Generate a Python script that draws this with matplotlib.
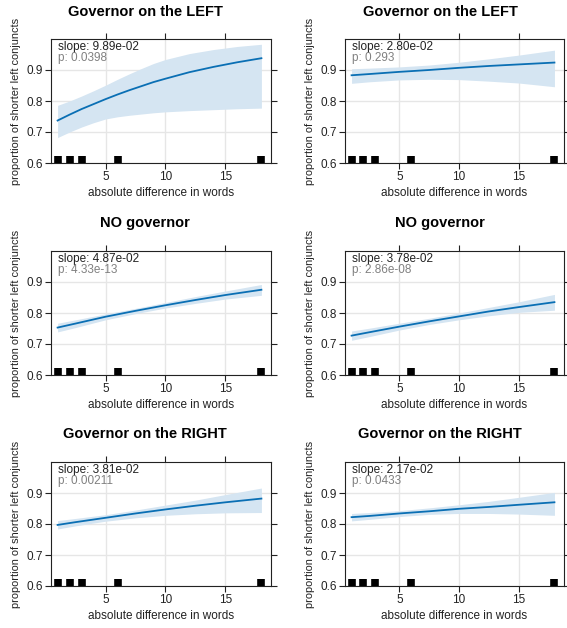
import numpy as np
import matplotlib
matplotlib.use("Agg")
import matplotlib.pyplot as plt

plt.rcParams['font.family'] = ['Liberation Sans', 'DejaVu Sans']

# x positions where the fitted curves were read
x_fit = [1, 2.5, 5, 7.5, 10, 12.5, 15, 18]
x_dense = [1, 2, 3, 4, 5, 6, 7, 8, 9, 10, 12, 14, 16, 18]
# observed distances (rug)
rug_x = [1, 2, 3, 6, 18]

titles = ["Governor on the LEFT", "Governor on the LEFT",
          "NO governor", "NO governor",
          "Governor on the RIGHT", "Governor on the RIGHT"]
slopes = ["9.89e-02", "2.80e-02", "4.87e-02", "3.78e-02", "3.81e-02", "2.17e-02"]
pvals = ["0.0398", "0.293", "4.33e-13", "2.86e-08", "0.00211", "0.0433"]

# read at x_dense
fit_left_a = [0.737, 0.756, 0.774, 0.790, 0.806, 0.821, 0.835, 0.848, 0.861, 0.872,
              0.893, 0.910, 0.925, 0.938]
upr_left_a = [0.786, 0.800, 0.816, 0.833, 0.851, 0.870, 0.888, 0.905, 0.921, 0.934,
              0.953, 0.966, 0.976, 0.983]
lwr_left_a = [0.682, 0.700, 0.716, 0.730, 0.742, 0.749, 0.754, 0.758, 0.762, 0.765,
              0.769, 0.772, 0.775, 0.777]

# read at x_fit
fit_left_b = [0.883, 0.887, 0.894, 0.900, 0.907, 0.913, 0.918, 0.924]
upr_left_b = [0.904, 0.906, 0.910, 0.916, 0.925, 0.936, 0.948, 0.964]
lwr_left_b = [0.857, 0.862, 0.868, 0.870, 0.869, 0.864, 0.858, 0.846]

fit_none_a = [0.753, 0.766, 0.788, 0.807, 0.825, 0.842, 0.858, 0.875]
upr_none_a = [0.767, 0.778, 0.797, 0.815, 0.834, 0.853, 0.871, 0.892]
lwr_none_a = [0.739, 0.753, 0.778, 0.798, 0.816, 0.831, 0.845, 0.857]

fit_none_b = [0.727, 0.738, 0.756, 0.773, 0.789, 0.805, 0.819, 0.835]
upr_none_b = [0.742, 0.751, 0.767, 0.783, 0.800, 0.818, 0.836, 0.860]
lwr_none_b = [0.712, 0.724, 0.745, 0.763, 0.778, 0.791, 0.802, 0.809]

fit_right_a = [0.797, 0.806, 0.820, 0.834, 0.847, 0.859, 0.870, 0.882]
upr_right_a = [0.811, 0.818, 0.830, 0.845, 0.861, 0.877, 0.895, 0.916]
lwr_right_a = [0.784, 0.794, 0.809, 0.820, 0.828, 0.833, 0.836, 0.837]

fit_right_b = [0.822, 0.826, 0.834, 0.841, 0.849, 0.855, 0.862, 0.870]
upr_right_b = [0.834, 0.837, 0.843, 0.852, 0.862, 0.873, 0.886, 0.902]
lwr_right_b = [0.810, 0.815, 0.824, 0.831, 0.834, 0.834, 0.832, 0.828]

xs = [x_dense, x_fit, x_fit, x_fit, x_fit, x_fit]
fits = [fit_left_a, fit_left_b, fit_none_a, fit_none_b, fit_right_a, fit_right_b]
uprs = [upr_left_a, upr_left_b, upr_none_a, upr_none_b, upr_right_a, upr_right_b]
lwrs = [lwr_left_a, lwr_left_b, lwr_none_a, lwr_none_b, lwr_right_a, lwr_right_b]

W, H = 567, 628
fig = plt.figure(figsize=(W / 100, H / 100), dpi=100)

col_left = [51, 345]
col_width = [220, 219]
row_top = [39, 251, 462]
row_height = 124
title_x = [145, 440]
title_y = [12, 223, 434]

line_color = '#0a6fb4'
band_color = '#d5e5f2'
txt = '#222222'

for i in range(6):
    r, c = divmod(i, 2)
    ax = fig.add_axes([col_left[c] / W, 1 - (row_top[r] + row_height) / H,
                       col_width[c] / W, row_height / H])

    ax.fill_between(xs[i], lwrs[i], uprs[i], color=band_color, lw=0, zorder=2)
    ax.plot(xs[i], fits[i], color=line_color, lw=1.3, zorder=3)
    ax.vlines(rug_x, 0, 0.058, transform=ax.get_xaxis_transform(),
              color='black', lw=5.5, zorder=4, clip_on=False)

    ax.set_xlim(0.45, 18.8)
    ax.set_ylim(0.6, 1.0)
    ax.set_xticks([5, 10, 15])
    ax.set_yticks([0.6, 0.7, 0.8, 0.9])
    ax.grid(True, color='#e6e6e6', lw=1, zorder=0)
    ax.set_axisbelow(True)

    ax.tick_params(direction='out', length=4, width=0.8, pad=1.5,
                   top=True, right=True, labeltop=False, labelright=False,
                   labelsize=8.5, colors=txt)
    for s in ax.spines.values():
        s.set_linewidth(0.8)
        s.set_color(txt)

    ax.set_xlabel("absolute difference in words", fontsize=8.5, color=txt)
    ax.xaxis.set_label_coords(0.5, -24 / row_height)
    ax.set_ylabel("proportion of shorter left conjuncts", fontsize=7.9, color=txt)
    ax.yaxis.set_label_coords(-35 / col_width[c], 0.5)
    ax.yaxis.label.set_va('center')

    ax.text(0.03, 0.938, "slope: " + slopes[i], transform=ax.transAxes,
            fontsize=8.5, va='center', ha='left', color=txt)
    ax.text(0.03, 0.844, "p: " + pvals[i], transform=ax.transAxes,
            fontsize=8.5, va='center', ha='left', color='#808080')

    fig.text(title_x[c] / W, 1 - title_y[r] / H, titles[i], fontsize=10.5,
             fontweight='bold', ha='center', va='center')

fig.savefig('out.png', dpi=100)
